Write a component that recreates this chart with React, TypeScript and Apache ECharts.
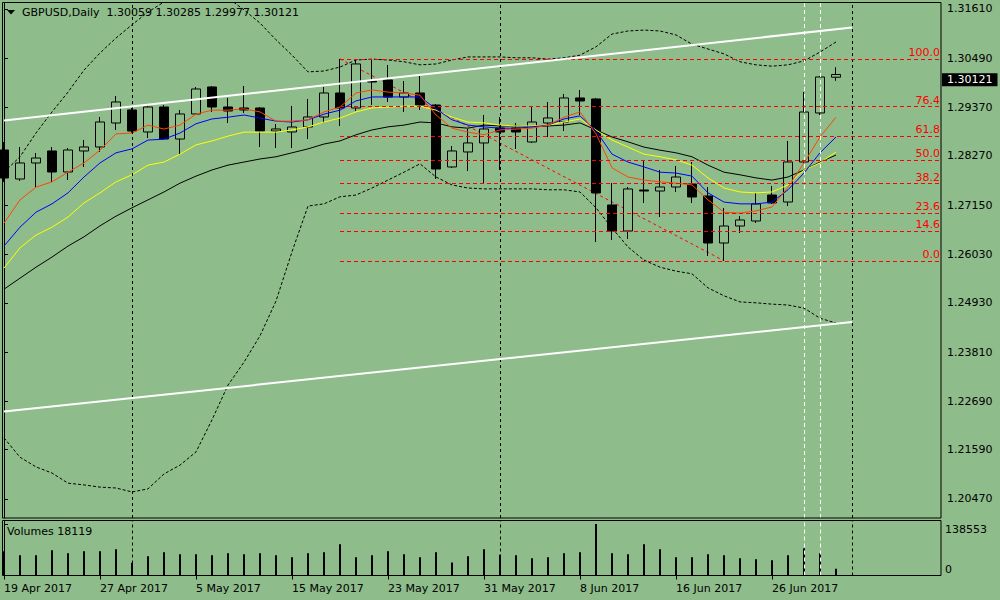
import React, { useEffect, useRef } from 'react';
import * as echarts from 'echarts';

const dates = [
  '19 Apr 2017', '20 Apr 2017', '21 Apr 2017', '24 Apr 2017', '25 Apr 2017', '26 Apr 2017', '27 Apr 2017', '28 Apr 2017',
  '1 May 2017', '2 May 2017', '3 May 2017', '4 May 2017', '5 May 2017', '8 May 2017', '9 May 2017', '10 May 2017',
  '11 May 2017', '12 May 2017', '15 May 2017', '16 May 2017', '17 May 2017', '18 May 2017', '19 May 2017', '22 May 2017',
  '23 May 2017', '24 May 2017', '25 May 2017', '26 May 2017', '29 May 2017', '30 May 2017', '31 May 2017',
  '1 Jun 2017', '2 Jun 2017', '5 Jun 2017', '6 Jun 2017', '7 Jun 2017', '8 Jun 2017', '9 Jun 2017', '12 Jun 2017',
  '13 Jun 2017', '14 Jun 2017', '15 Jun 2017', '16 Jun 2017', '19 Jun 2017', '20 Jun 2017', '21 Jun 2017', '22 Jun 2017',
  '23 Jun 2017', '26 Jun 2017', '27 Jun 2017', '28 Jun 2017', '29 Jun 2017', '30 Jun 2017',
];

const opens = [
  1.28404, 1.27745, 1.28109, 1.28382, 1.27904, 1.28382, 1.28473, 1.29018, 1.29314, 1.28814,
  1.29382, 1.28654, 1.29223, 1.29837, 1.29382, 1.29359, 1.29359, 1.28836, 1.28814, 1.28927,
  1.29155, 1.29700, 1.29359, 1.29973, 1.29996, 1.29609, 1.29700, 1.29427, 1.28018, 1.28359,
  1.28564, 1.28905, 1.28905, 1.28586, 1.29018, 1.29041, 1.29587, 1.29564, 1.27154, 1.26563,
  1.27495, 1.27472, 1.27563, 1.27631, 1.27359, 1.26290, 1.26676, 1.26790, 1.27381, 1.27222,
  1.28132, 1.29246, 1.30059,
];
const closes = [
  1.27768, 1.28109, 1.28222, 1.27904, 1.28404, 1.28473, 1.29041, 1.29496, 1.28836, 1.29382,
  1.28654, 1.29223, 1.29791, 1.29382, 1.29291, 1.29314, 1.28836, 1.28882, 1.28927, 1.29155,
  1.29700, 1.29359, 1.30360, 1.29950, 1.29609, 1.29700, 1.29427, 1.27972, 1.28382, 1.28564,
  1.28882, 1.28814, 1.28814, 1.29041, 1.29132, 1.29587, 1.29518, 1.27427, 1.26563, 1.27518,
  1.27472, 1.27563, 1.27790, 1.27336, 1.26290, 1.26676, 1.26813, 1.27177, 1.27199, 1.28132,
  1.29268, 1.30064, 1.30121,
];
const lows = [
  1.27677, 1.27700, 1.27563, 1.27677, 1.27722, 1.28018, 1.28359, 1.28859, 1.28791, 1.28677,
  1.28654, 1.28291, 1.29200, 1.29268, 1.29018, 1.29246, 1.28473, 1.28450, 1.28450, 1.28654,
  1.29018, 1.28950, 1.29291, 1.29427, 1.29496, 1.29268, 1.29314, 1.27745, 1.27995, 1.27927,
  1.27654, 1.27950, 1.28427, 1.28564, 1.28700, 1.28836, 1.29200, 1.26313, 1.26358, 1.26381,
  1.27199, 1.26881, 1.27449, 1.27199, 1.25994, 1.25885, 1.26517, 1.26745, 1.27177, 1.27131,
  1.28109, 1.29200, 1.29977,
];
const highs = [
  1.28586, 1.28473, 1.28336, 1.28473, 1.28450, 1.28632, 1.29155, 1.29632, 1.29359, 1.29405,
  1.29427, 1.29314, 1.29837, 1.29859, 1.29587, 1.29859, 1.29382, 1.28995, 1.29405, 1.29564,
  1.29837, 1.30475, 1.30451, 1.30451, 1.30337, 1.29973, 1.30087, 1.29450, 1.28495, 1.28882,
  1.29200, 1.29155, 1.29018, 1.29405, 1.29496, 1.29678, 1.29768, 1.29587, 1.27654, 1.27563,
  1.28177, 1.27950, 1.28041, 1.28132, 1.27563, 1.27086, 1.26904, 1.27427, 1.27586, 1.28609,
  1.29723, 1.30087, 1.30285,
];

const volumes = [
  65200, 54300, 54300, 67900, 59800, 65200, 65200, 70600, 34400, 51600,
  62500, 57000, 57000, 54300, 59800, 57000, 59800, 54300, 48900, 59800,
  62500, 84200, 48900, 54300, 65200, 57000, 48900, 62500, 35300, 51600,
  70600, 56100, 54300, 46200, 48900, 59800, 62500, 138553, 59800, 57000,
  84200, 70600, 48900, 48900, 57000, 54300, 46200, 43500, 40800, 54300,
  73400, 59800, 18119,
];

const maRed = [
  1.2674, 1.2727, 1.2756, 1.2768, 1.2790, 1.2811, 1.2840, 1.2877, 1.2879, 1.2897,
  1.2888, 1.2897, 1.2922, 1.2931, 1.2931, 1.2934, 1.2927, 1.2906, 1.2906, 1.2909,
  1.2927, 1.2938, 1.2970, 1.2977, 1.2972, 1.2970, 1.2965, 1.2920, 1.2890, 1.2881,
  1.2875, 1.2886, 1.2888, 1.2890, 1.2897, 1.2915, 1.2927, 1.2877, 1.2800, 1.2779,
  1.2772, 1.2768, 1.2765, 1.2761, 1.2727, 1.2699, 1.2697, 1.2702, 1.2711, 1.2756,
  1.2811, 1.2870, 1.2915,
];
const maBlue = [
  1.2622, 1.2665, 1.2699, 1.2718, 1.2743, 1.2779, 1.2811, 1.2834, 1.2843, 1.2863,
  1.2865, 1.2879, 1.2900, 1.2911, 1.2915, 1.2920, 1.2913, 1.2906, 1.2904, 1.2909,
  1.2922, 1.2931, 1.2952, 1.2961, 1.2961, 1.2961, 1.2961, 1.2934, 1.2909, 1.2897,
  1.2893, 1.2890, 1.2890, 1.2893, 1.2897, 1.2911, 1.2918, 1.2884, 1.2831, 1.2813,
  1.2802, 1.2790, 1.2788, 1.2781, 1.2743, 1.2722, 1.2718, 1.2718, 1.2722, 1.2750,
  1.2788, 1.2834, 1.2870,
];
const maYellow = [
  1.2572, 1.2618, 1.2647, 1.2665, 1.2688, 1.2720, 1.2743, 1.2768, 1.2784, 1.2806,
  1.2813, 1.2831, 1.2852, 1.2861, 1.2872, 1.2881, 1.2881, 1.2881, 1.2886, 1.2893,
  1.2904, 1.2913, 1.2927, 1.2936, 1.2938, 1.2940, 1.2940, 1.2931, 1.2915, 1.2904,
  1.2902, 1.2897, 1.2895, 1.2895, 1.2897, 1.2904, 1.2911, 1.2886, 1.2863, 1.2847,
  1.2831, 1.2825, 1.2818, 1.2806, 1.2777, 1.2754, 1.2745, 1.2743, 1.2745, 1.2761,
  1.2795, 1.2811, 1.2836,
];
const maBlack = [
  1.2524, 1.2549, 1.2574, 1.2597, 1.2622, 1.2643, 1.2668, 1.2690, 1.2709, 1.2727,
  1.2745, 1.2765, 1.2781, 1.2795, 1.2806, 1.2813, 1.2820, 1.2825, 1.2834, 1.2843,
  1.2854, 1.2861, 1.2875, 1.2886, 1.2893, 1.2897, 1.2904, 1.2902, 1.2893, 1.2890,
  1.2897, 1.2895, 1.2895, 1.2893, 1.2895, 1.2897, 1.2902, 1.2886, 1.2870, 1.2859,
  1.2847, 1.2840, 1.2834, 1.2825, 1.2806, 1.2790, 1.2784, 1.2777, 1.2772, 1.2779,
  1.2795, 1.2813, 1.2829,
];
const bandUpper = [
  1.2790, 1.2825, 1.2879, 1.2927, 1.2972, 1.3022, 1.3061, 1.3095, 1.3125, 1.3154,
  1.3177, 1.3195, 1.3204, 1.3200, 1.3186, 1.3159, 1.3129, 1.3091, 1.3056, 1.3018,
  1.3020, 1.3029, 1.3045, 1.3047, 1.3045, 1.3041, 1.3034, 1.3036, 1.3045, 1.3052,
  1.3052, 1.3052, 1.3050, 1.3050, 1.3047, 1.3050, 1.3056, 1.3075, 1.3104, 1.3111,
  1.3113, 1.3111, 1.3102, 1.3081, 1.3070, 1.3059, 1.3041, 1.3034, 1.3031, 1.3034,
  1.3043, 1.3063, 1.3086,
];
const bandLower = [
  1.2186, 1.2142, 1.2120, 1.2106, 1.2083, 1.2079, 1.2074, 1.2072, 1.2063, 1.2070,
  1.2104, 1.2124, 1.2154, 1.2227, 1.2306, 1.2358, 1.2418, 1.2497, 1.2609, 1.2713,
  1.2718, 1.2734, 1.2738, 1.2754, 1.2772, 1.2790, 1.2809, 1.2779, 1.2761, 1.2754,
  1.2752, 1.2752, 1.2752, 1.2752, 1.2750, 1.2750, 1.2745, 1.2709, 1.2663, 1.2620,
  1.2590, 1.2574, 1.2565, 1.2559, 1.2527, 1.2509, 1.2495, 1.2493, 1.2490, 1.2488,
  1.2481, 1.2458, 1.2447,
];

const trendUpper = [[0, 1.29075], [53, 1.31189]];
const trendLower = [[0, 1.22459], [53, 1.24494]];

const fibStart = 21;
const fibEnd = 45;
const fibLabels = ['0.0', '14.6', '23.6', '38.2', '50.0', '61.8', '76.4', '100.0'];
const fibPrices = [1.25885, 1.26555, 1.26968, 1.27638, 1.28180, 1.28722, 1.29392, 1.30475];

const priceTicks = [1.3161, 1.3049, 1.2937, 1.2827, 1.2715, 1.2603, 1.2493, 1.2381, 1.2269, 1.2159, 1.2047];
const volumeTicks = [0, 138553];
const dateTickIdx = [0, 6, 12, 18, 24, 30, 36, 42, 48];
const monthSeparators = [8, 31, 53];
const userLines = [50, 51];

const BG = '#8fbc8b';
const FONT = '"DejaVu Sans", Verdana, sans-serif';
const XMIN = -0.0625;
const XMAX = 58.5625;

function buildOption() {
  const n = dates.length;
  const candles = dates.map((_, i) => [i, opens[i], closes[i], lows[i], highs[i]]);
  const pts = (arr: number[]) => arr.map((v, i) => [i, v]);
  const last = n - 1;
  const title = `GBPUSD,Daily  ${opens[last].toFixed(5)} ${highs[last].toFixed(5)} ${lows[last].toFixed(5)} ${closes[last].toFixed(5)}`;

  const sepLines = () => [
    ...monthSeparators.map((x) => ({ xAxis: x, lineStyle: { color: '#000', type: [3, 3], width: 1 } })),
    ...userLines.map((x) => ({ xAxis: x, lineStyle: { color: '#fff', type: [4, 3], width: 1 } })),
  ];

  const lineSeries = (name: string, arr: number[], color: string, dashed = false) => ({
    name,
    type: 'line',
    xAxisIndex: 0,
    yAxisIndex: 0,
    data: pts(arr),
    showSymbol: false,
    symbol: 'none',
    silent: true,
    z: 4,
    lineStyle: { color, width: 1, type: dashed ? [3, 2] : 'solid' },
  });

  return {
    animation: false,
    backgroundColor: BG,
    textStyle: { fontFamily: FONT },
    grid: [
      { left: 3, top: 3, width: 938, height: 515 },
      { left: 3, top: 521, width: 938, height: 54.5 },
    ],
    xAxis: [
      {
        type: 'value', gridIndex: 0, min: XMIN, max: XMAX,
        axisLine: { show: false }, axisTick: { show: false }, axisLabel: { show: false }, splitLine: { show: false },
      },
      {
        type: 'value', gridIndex: 1, min: XMIN, max: XMAX, position: 'bottom',
        axisLine: { show: false },
        axisTick: { show: true, customValues: dateTickIdx, length: 4, lineStyle: { color: '#000' } },
        axisLabel: {
          customValues: dateTickIdx,
          formatter: (v: number) => dates[Math.round(v)] || '',
          align: 'left', margin: 7, color: '#000', fontSize: 11, fontFamily: FONT,
        },
        splitLine: { show: false },
      },
    ],
    yAxis: [
      {
        type: 'value', gridIndex: 0, position: 'right', min: 1.20038, max: 1.31746,
        splitLine: { show: false },
        axisLine: { show: true, lineStyle: { color: '#000' } },
        axisTick: { show: true, customValues: priceTicks, length: 4, lineStyle: { color: '#000' } },
        axisLabel: {
          customValues: priceTicks,
          formatter: (v: number) => v.toFixed(5),
          color: '#000', fontSize: 11, fontFamily: FONT, margin: 6,
        },
      },
      {
        type: 'value', gridIndex: 1, position: 'right', min: 0, max: 146600,
        splitLine: { show: false },
        axisLine: { show: true, lineStyle: { color: '#000' } },
        axisTick: { show: true, customValues: volumeTicks, length: 4, lineStyle: { color: '#000' } },
        axisLabel: {
          customValues: volumeTicks,
          formatter: (v: number) => (v === 0 ? '{b|0}' : `{t|${v}}`),
          margin: 4,
          rich: {
            t: { padding: [11, 0, 0, 0], color: '#000', fontSize: 11, fontFamily: FONT },
            b: { padding: [0, 0, 13, 0], color: '#000', fontSize: 11, fontFamily: FONT },
          },
        },
      },
    ],
    series: [
      {
        name: 'GBPUSD',
        type: 'candlestick',
        xAxisIndex: 0,
        yAxisIndex: 0,
        data: candles,
        barWidth: 9,
        z: 3,
        silent: true,
        itemStyle: {
          color: BG, color0: '#000', borderColor: '#000', borderColor0: '#000', borderColorDoji: '#000', borderWidth: 1,
        },
        markLine: {
          symbol: 'none',
          silent: true,
          label: { show: false },
          data: sepLines(),
        },
      },
      {
        name: 'Price',
        type: 'line',
        xAxisIndex: 0,
        yAxisIndex: 0,
        data: [],
        silent: true,
        z: 6,
        markLine: {
          symbol: 'none',
          silent: true,
          data: [
            {
              yAxis: closes[last],
              lineStyle: { color: 'rgba(0,0,0,0)', width: 0 },
              label: {
                show: true, position: 'end', distance: 1,
                formatter: closes[last].toFixed(5),
                color: '#ffffff', backgroundColor: '#000000', padding: [1, 5, 0, 5], lineHeight: 12,
                fontSize: 11, fontFamily: FONT,
              },
            },
          ],
        },
      },
      {
        name: 'Fibo',
        type: 'line',
        xAxisIndex: 0,
        yAxisIndex: 0,
        data: [[fibStart, fibPrices[fibPrices.length - 1]], [fibEnd, fibPrices[0]]],
        showSymbol: false,
        symbol: 'none',
        silent: true,
        z: 2,
        lineStyle: { color: '#ff0000', width: 1, type: [3, 3] },
        markLine: {
          symbol: 'none',
          silent: true,
          lineStyle: { color: '#ff0000', width: 1, type: [4, 3] },
          label: {
            show: true, position: 'insideEndTop', distance: 1,
            formatter: (p: any) => p.name,
            color: '#ff0000', fontSize: 11, fontFamily: FONT,
          },
          data: fibPrices.map((p, i) => [
            { name: fibLabels[i], coord: [fibStart, p] },
            { coord: [XMAX, p] },
          ]),
        },
      },
      lineSeries('Upper band', bandUpper, '#000', true),
      lineSeries('Lower band', bandLower, '#000', true),
      lineSeries('MA black', maBlack, '#000'),
      lineSeries('MA yellow', maYellow, '#ffff00'),
      lineSeries('MA blue', maBlue, '#0000ff'),
      lineSeries('MA red', maRed, '#ff4500'),
      {
        name: 'Trend upper', type: 'line', xAxisIndex: 0, yAxisIndex: 0, data: trendUpper,
        showSymbol: false, symbol: 'none', silent: true, z: 5, lineStyle: { color: '#fff', width: 2 },
      },
      {
        name: 'Trend lower', type: 'line', xAxisIndex: 0, yAxisIndex: 0, data: trendLower,
        showSymbol: false, symbol: 'none', silent: true, z: 5, lineStyle: { color: '#fff', width: 2 },
      },
      {
        name: 'Volumes',
        type: 'bar',
        xAxisIndex: 1,
        yAxisIndex: 1,
        data: pts(volumes),
        barWidth: 2,
        silent: true,
        itemStyle: { color: '#000' },
        z: 3,
        markLine: {
          symbol: 'none',
          silent: true,
          label: { show: false },
          data: sepLines(),
        },
      },
    ],
    graphic: [
      {
        type: 'rect', silent: true, z: 100,
        shape: { x: 2.5, y: 2.5, width: 938.5, height: 515.5 },
        style: { fill: 'none', stroke: '#000', lineWidth: 1 },
      },
      {
        type: 'rect', silent: true, z: 100,
        shape: { x: 2.5, y: 520.5, width: 938.5, height: 55 },
        style: { fill: 'none', stroke: '#000', lineWidth: 1 },
      },
      {
        type: 'polygon', silent: true, z: 100,
        shape: { points: [[7, 10], [15, 10], [11, 14.5]] },
        style: { fill: '#000' },
      },
      {
        type: 'text', silent: true, z: 100, x: 22, y: 12.5,
        style: { text: title, fill: '#000', fontSize: 11, fontFamily: FONT, verticalAlign: 'middle' },
      },
      {
        type: 'text', silent: true, z: 100, x: 7, y: 531.5,
        style: { text: `Volumes ${volumes[last]}`, fill: '#000', fontSize: 11, fontFamily: FONT, verticalAlign: 'middle' },
      },
    ],
  };
}

export default function App() {
  const ref = useRef<HTMLDivElement>(null);
  useEffect(() => {
    if (!ref.current) return;
    const chart = echarts.init(ref.current, null, { renderer: 'svg', width: 1000, height: 600 });
    chart.setOption(buildOption() as any);
    return () => chart.dispose();
  }, []);
  return (
    <div
      ref={ref}
      style={{ position: 'fixed', left: 0, top: 0, width: 1000, height: 600, background: BG }}
    />
  );
}
